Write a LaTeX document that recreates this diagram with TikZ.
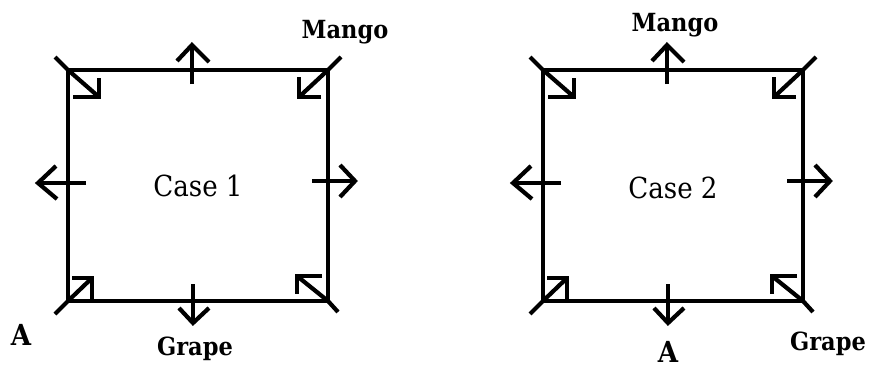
\documentclass[tikz,border=0pt]{standalone}
\usepackage{fontspec}
\newfontfamily\labfont{DejaVu Serif Condensed}
\begin{document}
\begin{tikzpicture}[x=1pt,y=-1pt,
  edge/.style={line width=4.2pt, line join=miter},
  arr/.style={line width=4.2pt, line join=miter, line cap=butt},
  lab/.style={font=\labfont\bfseries\fontsize{25}{25}\selectfont, anchor=base, inner sep=0pt},
  bigl/.style={lab, font=\labfont\bfseries\fontsize{29}{29}\selectfont},
  cs/.style={font=\labfont\fontsize{29}{29}\selectfont, text=black, anchor=base, inner sep=0pt}]
\useasboundingbox (0,0) rectangle (870,369);
\foreach \s/\n in {0/1,475/2}{
\begin{scope}[xshift=\s]
  \coordinate (tl\n) at (68,70);
  \coordinate (tr\n) at (328,70);
  \coordinate (bl\n) at (68,301);
  \coordinate (br\n) at (328,301);
  \draw[edge] (tl\n) -- (tr\n) -- (br\n) -- (bl\n) -- cycle;
  % corner arrows
  \coordinate (tlo\n) at (55,57);  \coordinate (tlt\n) at (99,97);
  \draw[arr] (tlo\n) -- (tl\n) -- (tlt\n);
  \draw[arr] (73,97) -- (tlt\n) -- (99,78);
  \coordinate (tro\n) at (341,57); \coordinate (trt\n) at (299,97);
  \draw[arr] (tro\n) -- (tr\n) -- (trt\n);
  \draw[arr] (321,97) -- (trt\n) -- (299,77);
  \coordinate (blo\n) at (55,314); \coordinate (blt\n) at (92,278);
  \draw[arr] (blo\n) -- (bl\n) -- (blt\n);
  \draw[arr] (72,278) -- (blt\n) -- (92,301);
  \coordinate (bro\n) at (338,312); \coordinate (brt\n) at (297,276);
  \draw[arr] (bro\n) -- (br\n) -- (brt\n);
  \draw[arr] (322,276) -- (brt\n) -- (297,294);
  % mid-edge arrows
  \coordinate (tmi\n) at (192,84); \coordinate (tmt\n) at (192,45);
  \draw[arr] (tmi\n) -- (tmt\n);
  \draw[arr] (177,61) -- (tmt\n) -- (209,62);
  \coordinate (lmi\n) at (86,183); \coordinate (lmt\n) at (38,183);
  \draw[arr] (lmi\n) -- (lmt\n);
  \draw[arr] (56,166) -- (lmt\n) -- (57,199);
  \coordinate (rmi\n) at (312,181); \coordinate (rmt\n) at (355,181);
  \draw[arr] (rmi\n) -- (rmt\n);
  \draw[arr] (340,165) -- (rmt\n) -- (340,197);
  \coordinate (bmi\n) at (193,284); \coordinate (bmt\n) at (193,323);
  \draw[arr] (bmi\n) -- (bmt\n);
  \draw[arr] (179,308) -- (bmt\n) -- (209,308);
\end{scope}
}
\node[cs] (c1) at (198,196) {Case 1};
\node[cs] (c2) at (673,198) {Case 2};
\node[lab] (m1) at (345,39) {Mango};
\node[lab] (g1) at (195,355) {Grape};
\node[bigl] (a1) at (21,345) {A};
\node[lab] (m2) at (675,32) {Mango};
\node[lab] (g2) at (828,350) {Grape};
\node[bigl] (a2) at (668,362) {A};
\end{tikzpicture}
\end{document}
